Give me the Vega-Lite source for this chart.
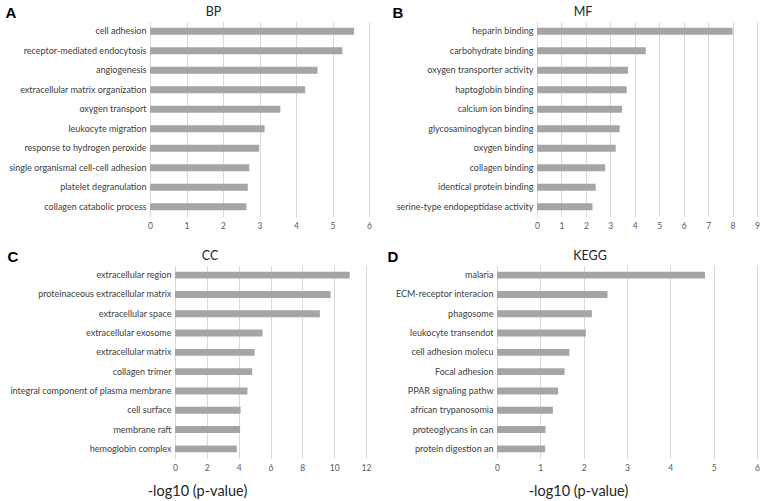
{
  "$schema": "https://vega.github.io/schema/vega-lite/v6.json",
  "padding": {"left": 5, "top": 5.5, "right": 5, "bottom": 2},
  "background": "#ffffff",
  "config": {
    "view": {"stroke": null},
    "font": "Lato",
    "axis": {"labelFont": "Lato", "ticks": false, "domain": false, "gridColor": "#d9d9d9", "gridWidth": 1},
    "axisY": {"grid": false, "labelFontSize": 9, "labelColor": "#404040", "labelPadding": 4, "labelLimit": 300, "titleAngle": 0, "titleAlign": "left", "titleBaseline": "middle", "titleFont": "Liberation Sans", "titleFontSize": 15, "titleFontWeight": "bold", "titleColor": "#000000"},
    "axisX": {"grid": true, "labelFontSize": 8.5, "labelColor": "#595959", "labelPadding": 5, "labelFlush": false, "titleFont": "Lato", "titleFontSize": 14.5, "titleFontWeight": "normal", "titleColor": "#262626", "titleAlign": "center", "titleBaseline": "middle"},
    "title": {"font": "Lato", "fontSize": 12.5, "fontWeight": "normal", "color": "#262626", "anchor": "middle", "frame": "group", "offset": 0},
    "bar": {"color": "#a5a5a5"}
  },
  "datasets": {
    "bp": [
      {"term": "cell adhesion", "value": 5.59},
      {"term": "receptor-mediated endocytosis", "value": 5.27},
      {"term": "angiogenesis", "value": 4.59},
      {"term": "extracellular matrix organization", "value": 4.25},
      {"term": "oxygen transport", "value": 3.57},
      {"term": "leukocyte migration", "value": 3.14},
      {"term": "response to hydrogen peroxide", "value": 2.99},
      {"term": "single organismal cell-cell adhesion", "value": 2.72},
      {"term": "platelet degranulation", "value": 2.68},
      {"term": "collagen catabolic process", "value": 2.64}
    ],
    "mf": [
      {"term": "heparin binding", "value": 8.0},
      {"term": "carbohydrate binding", "value": 4.45},
      {"term": "oxygen transporter activity", "value": 3.72},
      {"term": "haptoglobin binding", "value": 3.67},
      {"term": "calcium ion binding", "value": 3.48},
      {"term": "glycosaminoglycan binding", "value": 3.38},
      {"term": "oxygen binding", "value": 3.22},
      {"term": "collagen binding", "value": 2.79},
      {"term": "identical protein binding", "value": 2.4},
      {"term": "serine-type endopeptidase activity", "value": 2.27}
    ],
    "cc": [
      {"term": "extracellular region", "value": 10.98},
      {"term": "proteinaceous extracellular matrix", "value": 9.77},
      {"term": "extracellular space", "value": 9.1},
      {"term": "extracellular exosome", "value": 5.5},
      {"term": "extracellular matrix", "value": 5.0},
      {"term": "collagen trimer", "value": 4.85},
      {"term": "integral component of plasma membrane", "value": 4.55},
      {"term": "cell surface", "value": 4.12},
      {"term": "membrane raft", "value": 4.09},
      {"term": "hemoglobin complex", "value": 3.88}
    ],
    "kegg": [
      {"term": "malaria", "value": 4.8},
      {"term": "ECM-receptor interacion", "value": 2.55},
      {"term": "phagosome", "value": 2.19},
      {"term": "leukocyte transendot", "value": 2.05},
      {"term": "cell adhesion molecu", "value": 1.67},
      {"term": "Focal adhesion", "value": 1.56},
      {"term": "PPAR signaling pathw", "value": 1.41},
      {"term": "african trypanosomia", "value": 1.29},
      {"term": "proteoglycans in can", "value": 1.12},
      {"term": "protein digestion an", "value": 1.11}
    ]
  },
  "spacing": 19,
  "vconcat": [
    {
      "bounds": "flush",
      "spacing": 168,
      "hconcat": [
        {
          "data": {"name": "bp"},
          "width": 219, "height": 195,
          "title": {"text": "BP", "dx": -46, "dy": 17},
          "mark": {"type": "bar"},
          "encoding": {
            "y": {"field": "term", "type": "nominal", "sort": null, "scale": {"paddingInner": 0.64, "paddingOuter": 0.32}, "axis": {"title": "A", "titleX": -145, "titleY": -9}},
            "x": {"field": "value", "type": "quantitative", "scale": {"domain": [0, 6], "nice": false}, "axis": {"title": null, "values": [0, 1, 2, 3, 4, 5, 6]}}
          }
        },
        {
          "data": {"name": "mf"},
          "width": 220, "height": 195,
          "title": {"text": "MF", "dx": -64, "dy": 17},
          "mark": {"type": "bar"},
          "encoding": {
            "y": {"field": "term", "type": "nominal", "sort": null, "scale": {"paddingInner": 0.64, "paddingOuter": 0.32}, "axis": {"title": "B", "titleX": -145, "titleY": -9}},
            "x": {"field": "value", "type": "quantitative", "scale": {"domain": [0, 9], "nice": false}, "axis": {"title": null, "values": [0, 1, 2, 3, 4, 5, 6, 7, 8, 9]}}
          }
        }
      ]
    },
    {
      "bounds": "flush",
      "spacing": 131,
      "hconcat": [
        {
          "data": {"name": "cc"},
          "width": 216, "height": 193,
          "title": {"text": "CC", "dx": -48, "dy": 17},
          "mark": {"type": "bar"},
          "encoding": {
            "y": {"field": "term", "type": "nominal", "sort": null, "scale": {"paddingInner": 0.64, "paddingOuter": 0.32}, "axis": {"title": "C", "offset": -25, "titleX": -168, "titleY": -9}},
            "x": {"field": "value", "type": "quantitative", "scale": {"domain": [0, 12], "nice": false, "range": [25, 216]}, "axis": {"title": "-log10 (p-value)", "titleX": 47, "titleY": 33, "values": [0, 2, 4, 6, 8, 10, 12]}}
          }
        },
        {
          "data": {"name": "kegg"},
          "width": 260, "height": 193,
          "title": {"text": "KEGG", "dx": -37, "dy": 17},
          "mark": {"type": "bar"},
          "encoding": {
            "y": {"field": "term", "type": "nominal", "sort": null, "scale": {"paddingInner": 0.64, "paddingOuter": 0.32}, "axis": {"title": "D", "titleX": -110, "titleY": -9}},
            "x": {"field": "value", "type": "quantitative", "scale": {"domain": [0, 6], "nice": false}, "axis": {"title": "-log10 (p-value)", "titleX": 81, "titleY": 33, "values": [0, 1, 2, 3, 4, 5, 6]}}
          }
        }
      ]
    }
  ]
}
